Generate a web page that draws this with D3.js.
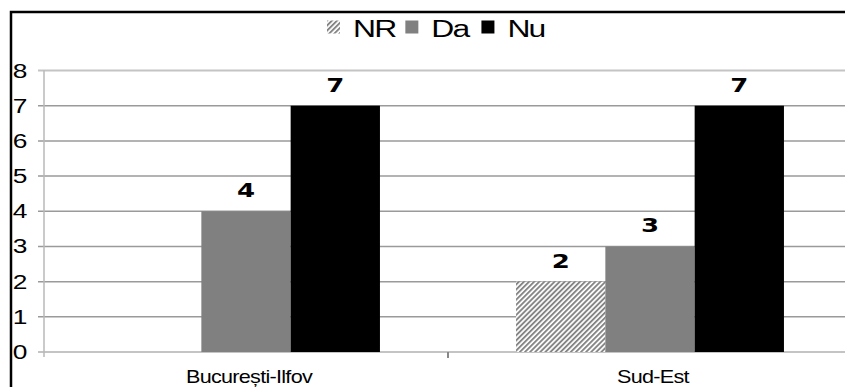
<!DOCTYPE html>
<html>
<head>
<meta charset="utf-8">
<script src="https://cdn.jsdelivr.net/npm/d3@7"></script>
<style>
  html, body { margin: 0; padding: 0; background: #fff; }
  svg { display: block; }
</style>
</head>
<body>
<svg id="chart" width="845" height="387"></svg>
<script>
// ---- data ----
const categories = ["București-Ilfov", "Sud-Est"];
const seriesNames = ["NR", "Da", "Nu"];
const valuesNR = [null, 2];
const valuesDa = [4, 3];
const valuesNu = [7, 7];
const yTicks = [0, 1, 2, 3, 4, 5, 6, 7, 8];

const seriesValues = { NR: valuesNR, Da: valuesDa, Nu: valuesNu };

const svg = d3.select("#chart");

// pattern for NR
const defs = svg.append("defs");
const pat = defs.append("pattern")
  .attr("id", "hatch")
  .attr("patternUnits", "userSpaceOnUse")
  .attr("width", 3.6).attr("height", 3.6)
  .attr("patternTransform", "rotate(45)");
pat.append("rect").attr("width", 3.6).attr("height", 3.6).attr("fill", "#ffffff");
pat.append("rect").attr("width", 1.9).attr("height", 3.6).attr("fill", "#858585");

const fills = { NR: "url(#hatch)", Da: "#808080", Nu: "#000000" };

// scales
const plotL = 44, plotR = 852, plotT = 70.5, plotB = 352;
const y = d3.scaleLinear().domain([0, 8]).range([plotB, plotT]);
const x0 = d3.scaleBand().domain(categories).range([plotL, plotR]).padding(0);
const x1 = d3.scaleBand().domain(seriesNames).range([0, x0.bandwidth()])
  .paddingInner(0).paddingOuter(0.762);

// outer border (top + left)
svg.append("path")
  .attr("d", `M11,387 L11,12 L845,12`)
  .attr("fill", "none").attr("stroke", "#000").attr("stroke-width", 2.5);

// gridlines
const grid = svg.append("g");
yTicks.forEach(t => {
  const isEdge = (t === 8 || t === 0);
  grid.append("line")
    .attr("x1", 38).attr("x2", plotR)
    .attr("y1", y(t)).attr("y2", y(t))
    .attr("stroke", isEdge ? "#c4c4c4" : "#9a9a9a")
    .attr("stroke-width", isEdge ? 2 : 1.5);
});
// vertical axis
svg.append("line")
  .attr("x1", plotL).attr("x2", plotL)
  .attr("y1", y(8)).attr("y2", y(0) + 5)
  .attr("stroke", "#b8b8b8").attr("stroke-width", 1.5);

// y tick labels
const sxTick = 1.35;
svg.append("g").selectAll("text").data(yTicks).join("text")
  .attr("transform", d => `translate(27.5,${y(d) + 7}) scale(${sxTick},1)`)
  .attr("text-anchor", "end")
  .attr("font-family", "Liberation Sans, Arial, sans-serif")
  .attr("font-size", 19.5)
  .attr("fill", "#000")
  .text(d => d);

// category boundary ticks
categories.slice(1).forEach(c => {
  svg.append("line")
    .attr("x1", x0(c)).attr("x2", x0(c))
    .attr("y1", plotB).attr("y2", plotB + 6)
    .attr("stroke", "#888").attr("stroke-width", 2);
});

// bars
const groups = svg.append("g").selectAll("g").data(categories).join("g")
  .attr("transform", c => `translate(${x0(c)},0)`);

groups.each(function(c, ci) {
  const g = d3.select(this);
  seriesNames.forEach(s => {
    const v = seriesValues[s][ci];
    if (v == null) return;
    g.append("rect")
      .attr("x", x1(s)).attr("width", x1.bandwidth())
      .attr("y", y(v)).attr("height", y(0) - y(v))
      .attr("fill", fills[s]);
    g.append("text")
      .attr("transform", `translate(${x1(s) + x1.bandwidth() / 2},${y(v) - 14}) scale(1.3,1)`)
      .attr("text-anchor", "middle")
      .attr("font-family", "DejaVu Sans, Verdana, sans-serif")
      .attr("font-weight", "bold")
      .attr("font-size", 20)
      .attr("fill", "#000")
      .text(v);
  });
});

// category labels
svg.append("g").selectAll("text").data(categories).join("text")
  .attr("transform", c => `translate(${x0(c) + x0.bandwidth() / 2 + 3},383) scale(1.2,1)`)
  .attr("text-anchor", "middle")
  .attr("font-family", "Liberation Sans, Arial, sans-serif")
  .attr("font-size", 18)
  .attr("letter-spacing", -0.6)
  .attr("fill", "#000")
  .text(c => c);

// legend
const sxLeg = 1.3;
const legend = svg.append("g");
let lx = 327;
const legGaps = [10, 13, 0];
seriesNames.forEach((s, i) => {
  legend.append("rect")
    .attr("x", lx).attr("y", 20.5).attr("width", 13).attr("height", 13)
    .attr("fill", fills[s]);
  const t = legend.append("text")
    .attr("transform", `translate(${lx + 26},36.5) scale(${sxLeg},1)`)
    .attr("font-family", "Liberation Sans, Arial, sans-serif")
    .attr("font-size", 24.5)
    .attr("letter-spacing", -1.4)
    .attr("fill", "#000")
    .text(s);
  const w = t.node().getComputedTextLength() * sxLeg;
  lx = lx + 26 + w + legGaps[i];
});
</script>
</body>
</html>
